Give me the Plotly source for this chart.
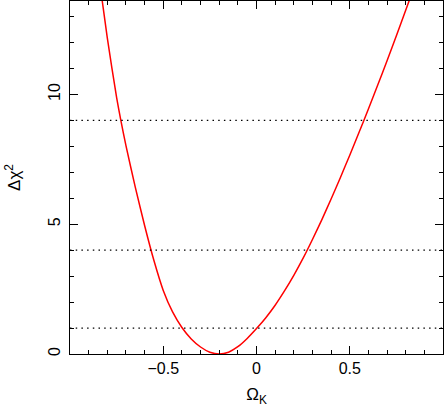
import plotly.graph_objects as go

# Delta chi^2 profile versus Omega_K
omega_k = [-0.85, -0.80, -0.75, -0.70, -0.65, -0.60, -0.55, -0.50, -0.45, -0.40,
           -0.35, -0.30, -0.25, -0.20, -0.15, -0.10, -0.05, 0.00, 0.05, 0.10,
           0.15, 0.20, 0.25, 0.30, 0.35, 0.40, 0.45, 0.50, 0.55, 0.60,
           0.65, 0.70, 0.75, 0.80, 0.85]
delta_chi2 = [14.8, 12.18, 9.88, 8.03, 6.43, 4.95, 3.60, 2.45, 1.62, 1.02,
              0.58, 0.27, 0.07, 0.00, 0.07, 0.28, 0.60, 0.98, 1.40, 1.88,
              2.43, 3.03, 3.69, 4.41, 5.17, 5.97, 6.80, 7.66, 8.54, 9.44,
              10.36, 11.30, 12.26, 13.24, 14.24]
levels = [1, 4, 9]

FONT = "Liberation Sans, Arial, sans-serif"

fig = go.Figure()
fig.add_trace(go.Scatter(x=omega_k, y=delta_chi2, mode="lines",
                         line=dict(color="#ff0000", width=1.5, shape="spline", smoothing=0.5),
                         showlegend=False, hoverinfo="skip"))
for lv in levels:
    fig.add_hline(y=lv, line=dict(color="black", width=1.2, dash="1.5px,4.2px"))

axis_common = dict(showline=True, linecolor="black", linewidth=1, mirror="ticks",
                   ticks="inside", ticklen=8, tickcolor="black", tickwidth=1,
                   showgrid=False, zeroline=False, automargin=False,
                   tickfont=dict(family=FONT, size=16, color="black"))

fig.update_xaxes(range=[-1, 1], tickvals=[-0.5, 0, 0.5], ticktext=["\u22120.5", "0", "0.5"],
                 minor=dict(dtick=0.1, tick0=0, ticks="inside", ticklen=4, tickcolor="black"),
                 title=dict(text="\u03a9<sub>K</sub>", font=dict(family=FONT, size=17, color="black"),
                            standoff=13),
                 **axis_common)
fig.update_yaxes(range=[0, 13.6], tickvals=[0, 5, 10], tickangle=-90, ticklabelstandoff=3,
                 minor=dict(dtick=1, tick0=0, ticks="inside", ticklen=4, tickcolor="black"),
                 title=dict(text="\u0394\u03c7<sup>2</sup>", font=dict(family=FONT, size=17, color="black"),
                            standoff=20),
                 **axis_common)

fig.update_layout(width=445, height=407, margin=dict(l=70, r=2, t=1, b=53),
                  plot_bgcolor="white", paper_bgcolor="white")
# page body has a default 8px margin; drop it so the figure sits at the window corner
fig.write_html("out.html", config={"displayModeBar": False},
               post_script="document.body.style.margin='0';")
